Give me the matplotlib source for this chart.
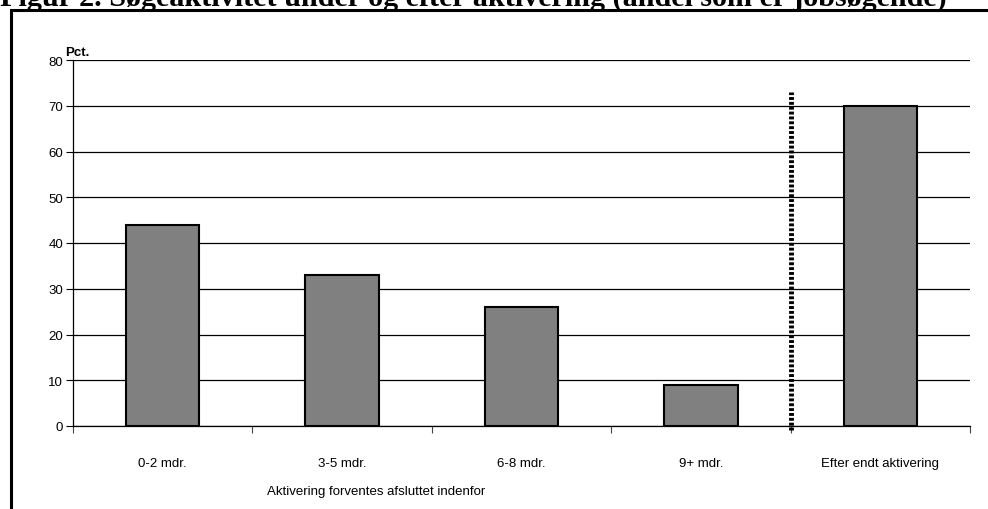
import matplotlib
matplotlib.use("Agg")
import matplotlib.pyplot as plt
import matplotlib.patches as patches
import numpy as np

categories = ["0-2 mdr.", "3-5 mdr.", "6-8 mdr.", "9+ mdr.", "Efter endt aktivering"]
values = [44, 33, 26, 9, 70]
yticks = [0, 10, 20, 30, 40, 50, 60, 70, 80]
divider_pos = 3.5
divider_top = 73

title = "Figur 2. Søgeaktivitet under og efter aktivering (andel som er jobsøgende)"
xlabel = "Aktivering forventes afsluttet indenfor"
ylabel = "Pct."

plt.rcParams['font.family'] = ['Liberation Sans', 'DejaVu Sans']

fig = plt.figure(figsize=(9.88, 5.10), dpi=100)

# outer frame, cut by the page edge on right and bottom
frame = patches.Rectangle((10.5 / 988, -0.1), 1.1, (510 - 10.5) / 510 + 0.1,
                          transform=fig.transFigure, fill=False,
                          edgecolor='black', linewidth=2.2)
fig.patches.append(frame)

# title is cut by the top edge, as on the page
fig.text(0.0, 1 - 6 / 510, title, fontsize=21.7, fontweight='bold',
         family=['Liberation Serif', 'DejaVu Serif'], va='baseline', ha='left')

ax = fig.add_axes([73 / 988, (510 - 427) / 510, (970 - 73) / 988, (427 - 61) / 510])

x = np.arange(len(categories))
ax.bar(x, values, width=0.41, color='#808080', edgecolor='black', linewidth=1.5, zorder=3)

ax.set_xlim(-0.5, len(categories) - 0.5)
ax.set_ylim(0, 80)
ax.set_yticks(yticks)
ax.yaxis.grid(True, color='black', linewidth=0.9, zorder=0)
ax.set_axisbelow(True)

ax.set_xticks(x)
ax.set_xticklabels(categories, fontsize=9.5)
ax.tick_params(axis='x', which='major', length=0, pad=22)
ax.set_xticks(np.arange(-0.5, len(categories)), minor=True)
ax.tick_params(axis='x', which='minor', length=5, width=0.8, color='#444444')
ax.tick_params(axis='y', labelsize=9.5, length=5, width=0.8, pad=2)

for s in ['top', 'right']:
    ax.spines[s].set_visible(False)
ax.spines['left'].set_linewidth(0.9)
ax.spines['bottom'].set_linewidth(0.9)

ax.vlines(divider_pos, -0.8, divider_top, colors='black', linestyles=(0, (0.6, 0.4)),
          linewidth=3.5, zorder=4, clip_on=False)

ax.text(-0.009, 1.006, ylabel, transform=ax.transAxes, fontsize=9.5, fontweight='bold',
        ha='left', va='bottom')
ax.text(0.338, -0.178, xlabel, transform=ax.transAxes, fontsize=9.5,
        ha='center', va='center')

fig.savefig("out.png", dpi=100)
